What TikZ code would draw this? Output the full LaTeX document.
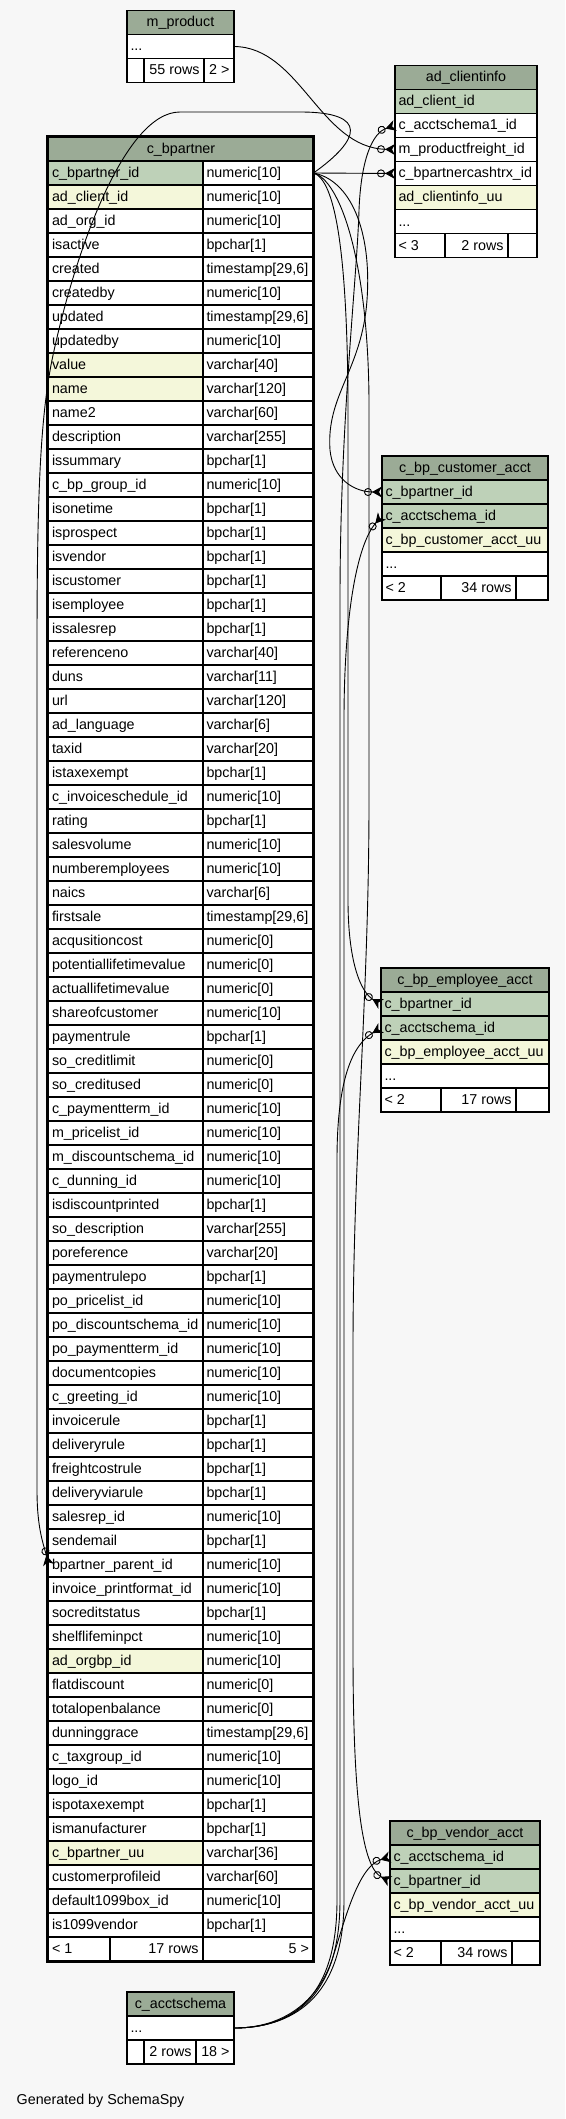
\documentclass[tikz,border=0pt]{standalone}
\usepackage{fontspec}
\setmainfont{Liberation Sans}
\usetikzlibrary{arrows.meta}
\definecolor{bgc}{HTML}{F7F7F7}
\definecolor{hdr}{HTML}{9BAB96}
\definecolor{pk}{HTML}{BED1B8}
\definecolor{idx}{HTML}{F4F7DA}
\definecolor{wh}{HTML}{FFFFFF}
\newcommand\tabfont{\fontsize{14.3}{17}\selectfont}
\tikzset{
  cellbox/.style={draw=black, line width=1.3pt, inner sep=0pt, outer sep=0pt, minimum height=24pt, anchor=north west},
  txt/.style={inner sep=0pt, outer sep=0pt, font=\tabfont},
  fk/.style={line width=0.9pt, -{Circle[open,length=8pt,width=8pt]Stealth[reversed,length=10pt,width=11pt,inset=3pt]}},
}
% name, x, y, width, fill, text
\newcommand\cL[6]{\node[cellbox,fill=#5,minimum width=#4pt] (#1) at (#2,#3) {};
  \node[txt,anchor=base west] (#1-t) at ([xshift=3.5pt,yshift=-4.5pt]#1.west) {#6};}
\newcommand\cR[6]{\node[cellbox,fill=#5,minimum width=#4pt] (#1) at (#2,#3) {};
  \node[txt,anchor=base east] (#1-t) at ([xshift=-4.5pt,yshift=-4.5pt]#1.east) {#6};}
\newcommand\cC[6]{\node[cellbox,fill=#5,minimum width=#4pt] (#1) at (#2,#3) {};
  \node[txt,anchor=base] (#1-t) at ([yshift=-4.5pt]#1.center) {#6};}
\newcommand\cE[5]{\node[cellbox,fill=#5,minimum width=#4pt] (#1) at (#2,#3) {};}
\begin{document}
\begin{tikzpicture}[x=1pt,y=-1pt]
\fill[bgc] (0,0) rectangle (565,2119);
\useasboundingbox (0,0) rectangle (565,2119);

% m_product
\cC{mp-h}{127}{10.5}{107}{hdr}{m\_product}
\cL{mp-d}{127}{34.5}{107}{wh}{...}
\cE{mp-f1}{127}{58.5}{17}{wh}
\cR{mp-f2}{144}{58.5}{60}{wh}{55 rows}
\cR{mp-f3}{204}{58.5}{30}{wh}{2 >}

% ad_clientinfo
\cC{aci-h}{395}{65.5}{142}{hdr}{ad\_clientinfo}
\cL{aci-client}{395}{89.5}{142}{pk}{ad\_client\_id}
\cL{aci-acct}{395}{113.5}{142}{wh}{c\_acctschema1\_id}
\cL{aci-mprod}{395}{137.5}{142}{wh}{m\_productfreight\_id}
\cL{aci-cash}{395}{161.5}{142}{wh}{c\_bpartnercashtrx\_id}
\cL{aci-uu}{395}{185.5}{142}{idx}{ad\_clientinfo\_uu}
\cL{aci-d}{395}{209.5}{142}{wh}{...}
\cL{aci-f1}{395}{233.5}{50}{wh}{< 3}
\cR{aci-f2}{445}{233.5}{63}{wh}{2 rows}
\cE{aci-f3}{508}{233.5}{29}{wh}

% c_bpartner
\cC{cbp-h}{48.5}{137}{265}{hdr}{c\_bpartner}
\foreach \nm/\ty/\fl [count=\i] in {
 c\_bpartner\_id/numeric[10]/pk,
 ad\_client\_id/numeric[10]/idx,
 ad\_org\_id/numeric[10]/wh,
 isactive/bpchar[1]/wh,
 created/{timestamp[29,6]}/wh,
 createdby/numeric[10]/wh,
 updated/{timestamp[29,6]}/wh,
 updatedby/numeric[10]/wh,
 value/varchar[40]/idx,
 name/varchar[120]/idx,
 name2/varchar[60]/wh,
 description/varchar[255]/wh,
 issummary/bpchar[1]/wh,
 c\_bp\_group\_id/numeric[10]/wh,
 isonetime/bpchar[1]/wh,
 isprospect/bpchar[1]/wh,
 isvendor/bpchar[1]/wh,
 iscustomer/bpchar[1]/wh,
 isemployee/bpchar[1]/wh,
 issalesrep/bpchar[1]/wh,
 referenceno/varchar[40]/wh,
 duns/varchar[11]/wh,
 url/varchar[120]/wh,
 ad\_language/varchar[6]/wh,
 taxid/varchar[20]/wh,
 istaxexempt/bpchar[1]/wh,
 c\_invoiceschedule\_id/numeric[10]/wh,
 rating/bpchar[1]/wh,
 salesvolume/numeric[10]/wh,
 numberemployees/numeric[10]/wh,
 naics/varchar[6]/wh,
 firstsale/{timestamp[29,6]}/wh,
 acqusitioncost/numeric[0]/wh,
 potentiallifetimevalue/numeric[0]/wh,
 actuallifetimevalue/numeric[0]/wh,
 shareofcustomer/numeric[10]/wh,
 paymentrule/bpchar[1]/wh,
 so\_creditlimit/numeric[0]/wh,
 so\_creditused/numeric[0]/wh,
 c\_paymentterm\_id/numeric[10]/wh,
 m\_pricelist\_id/numeric[10]/wh,
 m\_discountschema\_id/numeric[10]/wh,
 c\_dunning\_id/numeric[10]/wh,
 isdiscountprinted/bpchar[1]/wh,
 so\_description/varchar[255]/wh,
 poreference/varchar[20]/wh,
 paymentrulepo/bpchar[1]/wh,
 po\_pricelist\_id/numeric[10]/wh,
 po\_discountschema\_id/numeric[10]/wh,
 po\_paymentterm\_id/numeric[10]/wh,
 documentcopies/numeric[10]/wh,
 c\_greeting\_id/numeric[10]/wh,
 invoicerule/bpchar[1]/wh,
 deliveryrule/bpchar[1]/wh,
 freightcostrule/bpchar[1]/wh,
 deliveryviarule/bpchar[1]/wh,
 salesrep\_id/numeric[10]/wh,
 sendemail/bpchar[1]/wh,
 bpartner\_parent\_id/numeric[10]/wh,
 invoice\_printformat\_id/numeric[10]/wh,
 socreditstatus/bpchar[1]/wh,
 shelflifeminpct/numeric[10]/wh,
 ad\_orgbp\_id/numeric[10]/idx,
 flatdiscount/numeric[0]/wh,
 totalopenbalance/numeric[0]/wh,
 dunninggrace/{timestamp[29,6]}/wh,
 c\_taxgroup\_id/numeric[10]/wh,
 logo\_id/numeric[10]/wh,
 ispotaxexempt/bpchar[1]/wh,
 ismanufacturer/bpchar[1]/wh,
 c\_bpartner\_uu/varchar[36]/idx,
 customerprofileid/varchar[60]/wh,
 default1099box\_id/numeric[10]/wh,
 is1099vendor/bpchar[1]/wh}{
 \pgfmathsetmacro\yy{161+(\i-1)*24}
 \cL{cbp-\i-a}{48.5}{\yy}{154.5}{\fl}{\nm}
 \cL{cbp-\i-b}{203}{\yy}{110.5}{wh}{\ty}
}
\cL{cbp-f1}{48.5}{1937}{61.5}{wh}{< 1}
\cR{cbp-f2}{110}{1937}{93}{wh}{17 rows}
\cR{cbp-f3}{203}{1937}{110.5}{wh}{5 >}
\draw[line width=3pt] (47.5,136.5) rectangle (313.5,1961.5);

% c_bp_customer_acct
\cC{cus-h}{382}{456}{166}{hdr}{c\_bp\_customer\_acct}
\cL{cus-bp}{382}{480}{166}{pk}{c\_bpartner\_id}
\cL{cus-acct}{382}{504}{166}{pk}{c\_acctschema\_id}
\cL{cus-uu}{382}{528}{166}{idx}{c\_bp\_customer\_acct\_uu}
\cL{cus-d}{382}{552}{166}{wh}{...}
\cL{cus-f1}{382}{576}{59}{wh}{< 2}
\cR{cus-f2}{441}{576}{75}{wh}{34 rows}
\cE{cus-f3}{516}{576}{32}{wh}

% c_bp_employee_acct
\cC{emp-h}{381}{968}{168}{hdr}{c\_bp\_employee\_acct}
\cL{emp-bp}{381}{992}{168}{pk}{c\_bpartner\_id}
\cL{emp-acct}{381}{1016}{168}{pk}{c\_acctschema\_id}
\cL{emp-uu}{381}{1040}{168}{idx}{c\_bp\_employee\_acct\_uu}
\cL{emp-d}{381}{1064}{168}{wh}{...}
\cL{emp-f1}{381}{1088}{60}{wh}{< 2}
\cR{emp-f2}{441}{1088}{75}{wh}{17 rows}
\cE{emp-f3}{516}{1088}{33}{wh}

% c_bp_vendor_acct
\cC{ven-h}{390}{1821}{150}{hdr}{c\_bp\_vendor\_acct}
\cL{ven-acct}{390}{1845}{150}{pk}{c\_acctschema\_id}
\cL{ven-bp}{390}{1869}{150}{pk}{c\_bpartner\_id}
\cL{ven-uu}{390}{1893}{150}{idx}{c\_bp\_vendor\_acct\_uu}
\cL{ven-d}{390}{1917}{150}{wh}{...}
\cL{ven-f1}{390}{1941}{51}{wh}{< 2}
\cR{ven-f2}{441}{1941}{71}{wh}{34 rows}
\cE{ven-f3}{512}{1941}{28}{wh}

% c_acctschema
\cC{cas-h}{127}{1992}{107}{hdr}{c\_acctschema}
\cL{cas-d}{127}{2016}{107}{wh}{...}
\cE{cas-f1}{127}{2040}{17}{wh}
\cR{cas-f2}{144}{2040}{52}{wh}{2 rows}
\cR{cas-f3}{196}{2040}{38}{wh}{18 >}

\node[txt,anchor=base west] (gen) at (16.7,2104) {Generated by SchemaSpy};

% connectors
\draw[fk] (mp-d.east) .. controls (300,47) and (320,148) .. (aci-mprod.west);
\draw[fk] (cbp-1-b.east) -- (aci-cash.west);
\draw[fk] (cbp-1-b.east) .. controls (360,140) and (370,112) .. (300,112) -- (180,112)
  .. controls (125,112) and (75,250) .. (52,360) .. controls (40,420) and (37,500) .. (37,650)
  -- (37,1490) .. controls (37,1530) and (44,1545) .. (cbp-59-a.west);
\draw[fk] (cbp-1-b.east) .. controls (350,180) and (372,230) .. (367,300)
  .. controls (362,370) and (326,395) .. (330,450) .. controls (333,480) and (355,492) .. (cus-bp.west);
\draw[fk] (cbp-1-b.east) .. controls (335,180) and (347,250) .. (348,400) -- (348,900)
  .. controls (348,960) and (360,992) .. (emp-bp.west);
\draw[fk] (cbp-1-b.east) .. controls (340,180) and (368,260) .. (369,400) -- (369,800)
  .. controls (369,1000) and (353,1150) .. (353,1350) -- (353,1650)
  .. controls (353,1800) and (362,1868) .. (ven-bp.west);
\draw[fk] (cas-d.east) .. controls (290,2028) and (340,2000) .. (340,1900) -- (340,600)
  .. controls (340,420) and (357,280) .. (359,210) .. controls (361,160) and (372,133) .. (aci-acct.west);
\draw[fk] (cas-d.east) .. controls (290,2028) and (344,2000) .. (344,1900) -- (344,720)
  .. controls (344,620) and (356,545) .. (cus-acct.west);
\draw[fk] (cas-d.east) .. controls (290,2028) and (337,2000) .. (337,1900) -- (337,1160)
  .. controls (337,1080) and (352,1045) .. (emp-acct.west);
\draw[fk] (cas-d.east) .. controls (285,2028) and (318,2000) .. (332,1960)
  .. controls (345,1920) and (358,1866) .. (ven-acct.west);
\end{tikzpicture}
\end{document}
